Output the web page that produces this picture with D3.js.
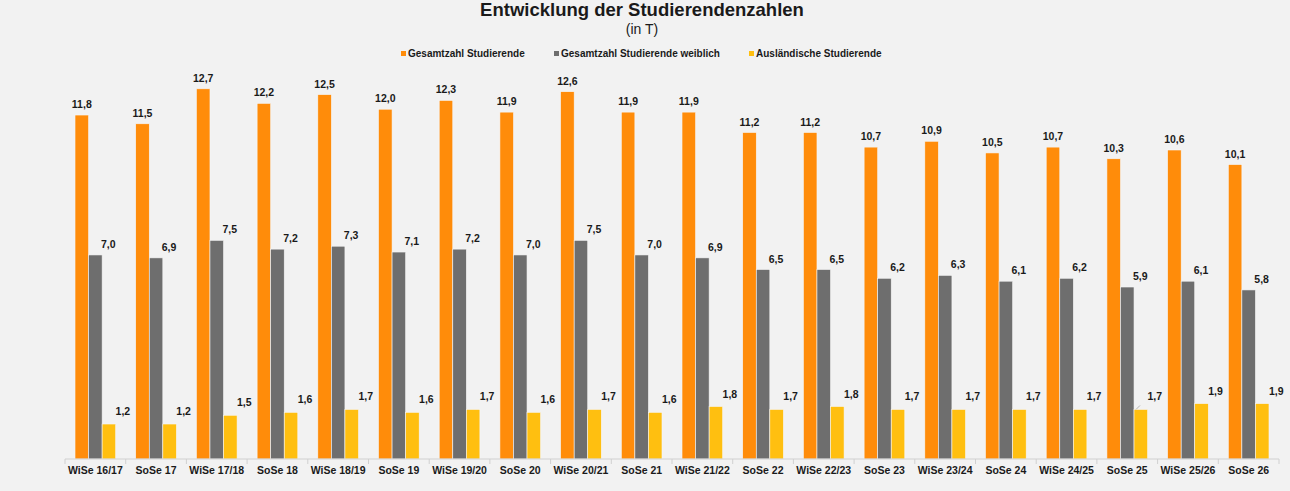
<!DOCTYPE html>
<meta charset="utf-8">
<style>
body { margin: 0; background: #f2f2f2; }
#thevis { background-color: #f2f2f2; display: block; }
text { font-family: "Liberation Sans", Arial, sans-serif; fill: #1a1a1a; }
</style>
<svg id="thevis" width="1290" height="491"></svg>
<script src="https://cdn.jsdelivr.net/npm/d3@7"></script>
<script>

// values (in thousands)
var semesters = ["WiSe 16/17", "SoSe 17", "WiSe 17/18", "SoSe 18", "WiSe 18/19", "SoSe 19",
	"WiSe 19/20", "SoSe 20", "WiSe 20/21", "SoSe 21", "WiSe 21/22", "SoSe 22", "WiSe 22/23",
	"SoSe 23", "WiSe 23/24", "SoSe 24", "WiSe 24/25", "SoSe 25", "WiSe 25/26", "SoSe 26"];
var gesamt   = [11.8, 11.5, 12.7, 12.2, 12.5, 12.0, 12.3, 11.9, 12.6, 11.9, 11.9, 11.2, 11.2, 10.7, 10.9, 10.5, 10.7, 10.3, 10.6, 10.1];
var weiblich = [7.0, 6.9, 7.5, 7.2, 7.3, 7.1, 7.2, 7.0, 7.5, 7.0, 6.9, 6.5, 6.5, 6.2, 6.3, 6.1, 6.2, 5.9, 6.1, 5.8];
var auslaend = [1.2, 1.2, 1.5, 1.6, 1.7, 1.6, 1.7, 1.6, 1.7, 1.6, 1.8, 1.7, 1.8, 1.7, 1.7, 1.7, 1.7, 1.7, 1.9, 1.9];
var seriesNames = ["Gesamtzahl Studierende", "Gesamtzahl Studierende weiblich", "Ausländische Studierende"];
var colors = ["#ff8c0a", "#6e6e6e", "#ffbf10"];
// the one label in the original that was dragged and got a leader line
var leaderAt = "SoSe 25";

var series = [gesamt, weiblich, auslaend];

var svg = d3.select("#thevis"),
	left = 65, right = 1279, base = 459;

var x0 = d3.scaleBand().domain(semesters).range([left, right]);
var bw = x0.bandwidth();
var x1 = d3.scaleBand().domain([0, 1, 2]).range([bw * 0.165, bw * 0.835]);

var y = d3.scaleLinear().domain([0, 14]).range([base, base - 14 * 29.15]);

// title
svg.append("text")
	.attr("x", 642).attr("y", 16)
	.attr("text-anchor", "middle")
	.attr("font-size", "18.5px").attr("font-weight", "bold")
	.text("Entwicklung der Studierendenzahlen");
svg.append("text")
	.attr("x", 642).attr("y", 34)
	.attr("text-anchor", "middle")
	.attr("font-size", "14px")
	.text("(in T)");

// legend
var legX = [401, 554, 749];
var legend = svg.append("g").selectAll("g")
	.data(seriesNames)
	.enter().append("g")
	.attr("transform", function(d, i) { return "translate(" + legX[i] + ",57)"; });
legend.append("rect")
	.attr("x", 0).attr("y", -6)
	.attr("width", 5).attr("height", 5)
	.attr("fill", function(d, i) { return colors[i]; });
legend.append("text")
	.attr("x", 7).attr("y", 0)
	.attr("font-size", "10px").attr("font-weight", "bold")
	.text(function(d) { return d; });

// bars
var groups = svg.append("g").selectAll("g")
	.data(semesters)
	.enter().append("g")
	.attr("transform", function(d) { return "translate(" + x0(d) + ",0)"; });

function cells(d, i) {
	return series.map(function(s, k) { return {k: k, v: s[i], sem: d}; });
}

groups.selectAll("rect")
	.data(cells)
	.enter().append("rect")
	.attr("x", function(d) { return x1(d.k); })
	.attr("y", function(d) { return y(d.v); })
	.attr("width", x1.bandwidth())
	.attr("height", function(d) { return base - y(d.v); })
	.attr("fill", function(d) { return colors[d.k]; })
	.attr("stroke", "#f6f6f6").attr("stroke-width", 0.6);

// value labels: orange centred, the others pushed to the right like in the original
var labelShift = [0, 13, 14];
var labelGap = [7, 7, 9];
groups.selectAll("text")
	.data(cells)
	.enter().append("text")
	.attr("x", function(d) { return x1(d.k) + x1.bandwidth() / 2 + labelShift[d.k]; })
	.attr("y", function(d) { return y(d.v) - labelGap[d.k]; })
	.attr("text-anchor", "middle")
	.attr("font-size", "10.5px").attr("font-weight", "bold")
	.text(function(d) { return d3.format(".1f")(d.v).replace(".", ","); });

groups.filter(function(d) { return d === leaderAt; })
	.append("line")
	.attr("x1", x1(2) + 2).attr("y1", y(auslaend[semesters.indexOf(leaderAt)]))
	.attr("x2", x1(2) + 6).attr("y2", y(auslaend[semesters.indexOf(leaderAt)]) - 4)
	.attr("stroke", "#a6a6a6").attr("stroke-width", 0.8);

// x axis
var axis = svg.append("g")
	.attr("transform", "translate(0," + base + ")");
axis.append("line")
	.attr("x1", left).attr("x2", right)
	.attr("stroke", "#d0d0d0");
axis.selectAll("line.tick")
	.data(semesters.concat(["end"]))
	.enter().append("line")
	.attr("class", "tick")
	.attr("x1", function(d) { return d === "end" ? right : x0(d); })
	.attr("x2", function(d) { return d === "end" ? right : x0(d); })
	.attr("y1", 0).attr("y2", 5)
	.attr("stroke", "#d0d0d0");
axis.selectAll("text")
	.data(semesters)
	.enter().append("text")
	.attr("x", function(d) { return x0(d) + bw / 2; })
	.attr("y", 15)
	.attr("text-anchor", "middle")
	.attr("font-size", "10.5px").attr("font-weight", "bold")
	.text(function(d) { return d; });

</script>
